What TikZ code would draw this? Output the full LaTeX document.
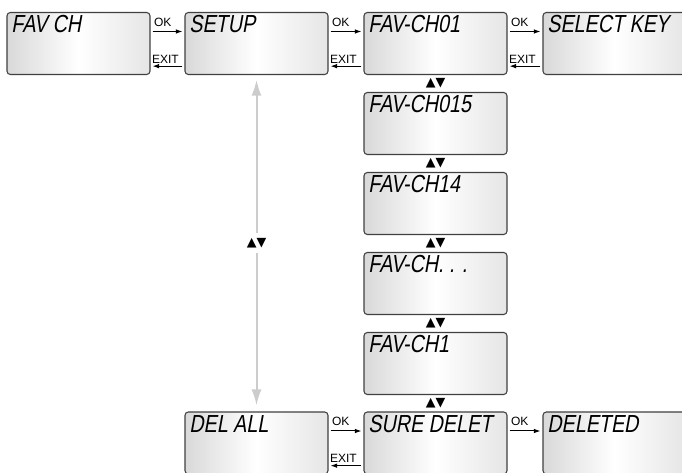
\documentclass[tikz,border=0pt]{standalone}
\usepackage{fontspec}
\setmainfont{Liberation Sans}
\newfontfamily\lcdfont[FakeSlant=0.18,FakeStretch=0.8]{Liberation Sans}
\newfontfamily\symfont{DejaVu Sans}
\usetikzlibrary{arrows.meta,calc,positioning}

\tikzset{
  lcd/.style={draw=black!75, line width=0.8pt, rounded corners=2.5pt,
    minimum width=107.25pt, minimum height=46.5pt, inner sep=0pt,
    left color=gray!30, right color=gray!20, middle color=white},
  lcdtext/.style={anchor=north west, inner sep=0pt, xshift=3.5pt, yshift=-2.5pt,
    font=\lcdfont\fontsize{18.5}{20}\selectfont},
  keyarrow/.style={-{Latex[length=5pt,width=3.5pt]}, line width=0.75pt,
    shorten <=1.5pt, shorten >=1.5pt},
  keylbl/.style={font=\fontsize{9}{10}\selectfont, inner sep=0.8pt, anchor=south west},
  updown/.style={font=\symfont\fontsize{9.5}{10}\selectfont, inner sep=0.3pt},
  grayarrow/.style={{Latex[length=12pt,width=7.5pt]}-{Latex[length=12pt,width=7.5pt]},
    draw=gray!40, line width=1.5pt, shorten <=3.5pt, shorten >=4.5pt},
}

\begin{document}
\begin{tikzpicture}[>=Latex, x=0.75pt, y=-0.75pt]
  \useasboundingbox (0,0) rectangle (682,473);
  \clip (0,0) rectangle (682,473);
  % top row
  \node[lcd, label={[lcdtext]north west:FAV CH}] (favch) at (78.5,43.5) {};
  \node[lcd, label={[lcdtext]north west:SETUP}] (setup) at (256.5,43.5) {};
  \node[lcd, label={[lcdtext]north west:FAV-CH01}] (ch01) at (435.5,43.5) {};
  \node[lcd, label={[lcdtext]north west:SELECT KEY}] (selkey) at (614.5,43.5) {};
  % channel list
  \node[lcd, label={[lcdtext]north west:FAV-CH015}] (ch015) at (435.5,123.5) {};
  \node[lcd, label={[lcdtext]north west:FAV-CH14}] (ch14) at (435.5,203.5) {};
  \node[lcd, label={[lcdtext]north west:FAV-CH. . .}] (chdots) at (435.5,283.5) {};
  \node[lcd, label={[lcdtext]north west:FAV-CH1}] (ch1) at (435.5,363.5) {};
  % bottom row
  \node[lcd, label={[lcdtext]north west:DEL ALL}] (delall) at (256.5,443) {};
  \node[lcd, label={[lcdtext]north west:SURE DELET}] (sure) at (435.5,443) {};
  \node[lcd, label={[lcdtext]north west:DELETED}] (deleted) at (614.5,443) {};

  % OK / EXIT keys
  \foreach \a/\b in {favch/setup, setup/ch01, ch01/selkey, delall/sure}{
    \draw[keyarrow] ([yshift=9pt]\a.east) -- ([yshift=9pt]\b.west)
      node[pos=0, keylbl, xshift=1.5pt, yshift=2.5pt] {OK};
    \draw[keyarrow] ([yshift=-17pt]\b.west) -- ([yshift=-17pt]\a.east)
      node[pos=1, keylbl, yshift=1pt] {EXIT};
  }
  \draw[keyarrow] ([yshift=9pt]sure.east) -- ([yshift=9pt]deleted.west)
    node[pos=0, keylbl, xshift=1.5pt, yshift=2.5pt] {OK};

  % up / down
  \foreach \a/\b in {ch01/ch015, ch015/ch14, ch14/chdots, chdots/ch1, ch1/sure}
    \path (\a.south) -- node[updown] {▲▼} (\b.north);
  \draw[grayarrow] (setup.south) -- node[updown, fill=white, inner ysep=4pt] {▲▼} (delall.north);
\end{tikzpicture}
\end{document}
